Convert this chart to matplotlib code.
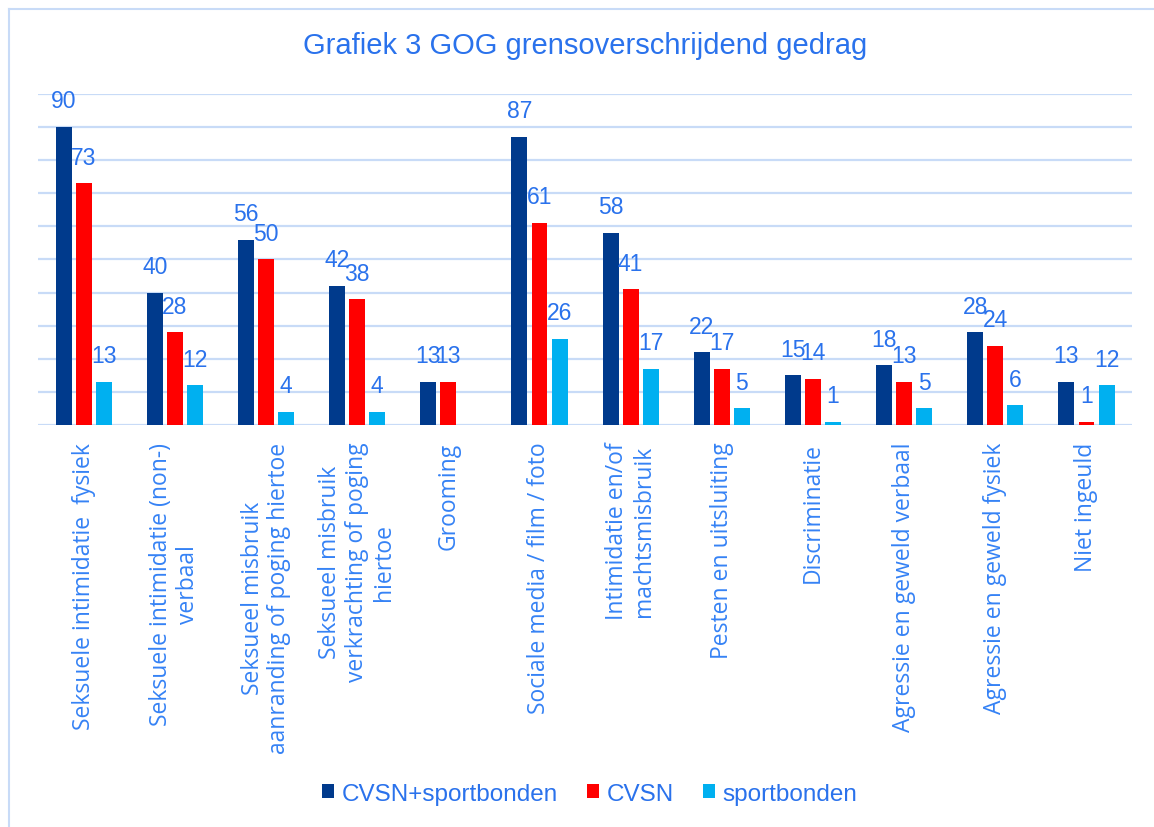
import matplotlib.pyplot as plt
import numpy as np
from matplotlib.lines import Line2D
from matplotlib.patches import Patch

categories = [
    'Seksuele intimidatie  fysiek',
    'Seksuele intimidatie (non-)\nverbaal',
    'Seksueel misbruik\naanranding of poging hiertoe',
    'Seksueel misbruik\nverkrachting of poging\nhiertoe',
    'Grooming',
    'Sociale media / film / foto',
    'Intimidatie en/of\nmachtsmisbruik',
    'Pesten en uitsluiting',
    'Discriminatie',
    'Agressie en geweld verbaal',
    'Agressie en geweld fysiek',
    'Niet ingeuld',
]
cvsn_sport = [90, 40, 56, 42, 13, 87, 58, 22, 15, 18, 28, 13]
cvsn = [73, 28, 50, 38, 13, 61, 41, 17, 14, 13, 24, 1]
sportbonden = [13, 12, 4, 4, 0, 26, 17, 5, 1, 5, 6, 12]
series_names = ['CVSN+sportbonden', 'CVSN', 'sportbonden']

colors = ['#003A8C', '#FF0000', '#00B0F0']
text_blue = '#2A72EC'
label_blue = '#3582F5'
grid_blue = '#C8DBF7'

plt.rcParams['font.family'] = ['Liberation Sans', 'DejaVu Sans']

fig = plt.figure(figsize=(11.54, 8.28), dpi=100)
ax = fig.add_axes([0.033, 0.4855, 0.948, 0.3998])

x = np.arange(len(categories))
w = 0.175
step = 0.22
for i, (vals, col) in enumerate(zip([cvsn_sport, cvsn, sportbonden], colors)):
    pos = x + (i - 1) * step
    bars = ax.bar(pos, vals, width=w, color=col, zorder=3)
    for b, v in zip(bars, vals):
        if v == 0:
            continue  # no label for empty bar
        ax.annotate(str(v), (b.get_x() + b.get_width() / 2, v),
                    xytext=(0, 10.5), textcoords='offset points',
                    ha='center', va='bottom', fontsize=16.5, color=text_blue)

ax.set_xlim(-0.5, len(categories) - 0.5)
ax.set_ylim(0, 100)
ax.set_yticks(np.arange(0, 101, 10))
ax.set_yticklabels([])
ax.yaxis.grid(True, color=grid_blue, linewidth=1.6, zorder=0)
ax.tick_params(axis='both', length=0)
for s in ax.spines.values():
    s.set_visible(False)

ax.set_xticks(x)
ax.set_xticklabels(categories, rotation=90, ha='center', va='top',
                   multialignment='center', fontsize=16.5, color=label_blue,
                   family=['Open Sans', 'DejaVu Sans'], linespacing=1.15)
ax.tick_params(axis='x', pad=12)

fig.text(0.507, 1 - 46 / 828, 'Grafiek 3 GOG grensoverschrijdend gedrag',
         ha='center', va='center', fontsize=21, color=text_blue)

handles = [Patch(facecolor=c, edgecolor='none') for c in colors]
fig.legend(handles, series_names, loc='center', bbox_to_anchor=(0.511, 1 - 795 / 828),
           ncol=3, frameon=False, fontsize=17.5, labelcolor=text_blue,
           handlelength=0.5, handleheight=0.5, handletextpad=0.3,
           columnspacing=1.2)

# border of the chart box
fig.add_artist(Line2D([9 / 1154, 1], [1 - 10 / 828, 1 - 10 / 828],
                      transform=fig.transFigure, color=grid_blue, lw=1.5))
fig.add_artist(Line2D([9 / 1154, 9 / 1154], [0, 1 - 10 / 828],
                      transform=fig.transFigure, color=grid_blue, lw=1.5))

fig.savefig('out.png', dpi=100)
